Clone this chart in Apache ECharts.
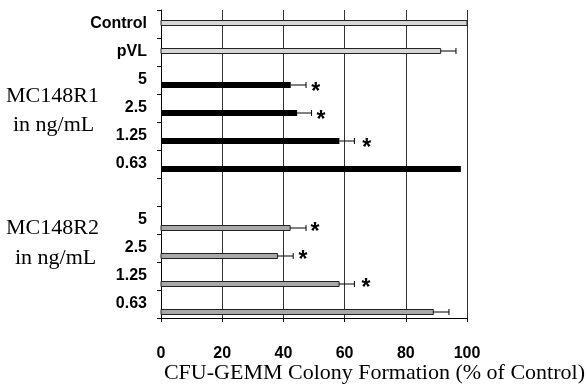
<!DOCTYPE html>
<html>
<head>
<meta charset="utf-8">
<script src="https://cdn.jsdelivr.net/npm/echarts@6/dist/echarts.min.js"></script>
<style>
  html, body { margin: 0; padding: 0; background: #fff; }
  #chart { width: 587px; height: 385px; }
</style>
</head>
<body>
<div id="chart"></div>
<script>
// rows top to bottom (empty row separates the two MC148 groups)
const categories = ['Control', 'pVL', '5', '2.5', '1.25', '0.63', '', '5', '2.5', '1.25', '0.63'];
const xTicks = [0, 20, 40, 60, 80, 100];

// control rows
const ctrlRows = [0, 1];
const ctrlValues = [100, 91.4];
const ctrlErr = [null, 96.4];

// MC148R1
const r1Rows = [2, 3, 4, 5];
const r1Values = [42.4, 44.5, 58.3, 98];
const r1Err = [47.4, 49.2, 63.2, null];
const r1Stars = [50.6, 52.3, 67.2, null];

// MC148R2
const r2Rows = [7, 8, 9, 10];
const r2Values = [42.2, 38.1, 58.2, 89];
const r2Err = [47.4, 43.2, 63.2, 94.1];
const r2Stars = [50.3, 46.4, 67.0, null];

const chart = echarts.init(document.getElementById('chart'));

function rows(idx, vals, errs) {
  return idx.map((r, i) => [vals[i], r, errs[i] == null ? '-' : errs[i]]);
}

function barRender(offset, h, style) {
  return function (params, api) {
    const s = api.coord([0, api.value(1)]);
    const e = api.coord([api.value(0), api.value(1)]);
    return {
      type: 'rect',
      shape: { x: s[0], y: s[1] + offset - h / 2, width: e[0] - s[0], height: h },
      style: style
    };
  };
}

function errRender(offset) {
  return function (params, api) {
    const err = api.value(2);
    if (isNaN(err)) return null;
    const s = api.coord([api.value(0), api.value(1)]);
    const e = api.coord([err, api.value(1)]);
    const y = s[1] + offset;
    return {
      type: 'group',
      children: [
        { type: 'line', shape: { x1: s[0], y1: y, x2: e[0], y2: y }, style: { stroke: '#000', lineWidth: 1 } },
        { type: 'line', shape: { x1: e[0], y1: y - 3, x2: e[0], y2: y + 3 }, style: { stroke: '#000', lineWidth: 1 } }
      ]
    };
  };
}

function starRender(params, api) {
  const p = api.coord([api.value(0), api.value(1)]);
  return {
    type: 'text',
    style: {
      x: p[0], y: p[1] + 13, text: '*',
      font: 'bold 23px "Liberation Sans", Arial, sans-serif',
      fill: '#000', align: 'center', verticalAlign: 'middle'
    }
  };
}

function starData(idx, stars) {
  return idx.map((r, i) => [stars[i], r]).filter(d => d[0] != null);
}

const boldLabel = { fontFamily: '"Liberation Sans", Arial, sans-serif', fontWeight: 'bold', fontSize: 16, color: '#000' };
const serif = '"Liberation Serif", "Times New Roman", serif';

const option = {
  backgroundColor: '#fff',
  animation: false,
  grid: { left: 161, right: 120, top: 10, bottom: 67 },
  xAxis: {
    type: 'value',
    min: xTicks[0],
    max: xTicks[xTicks.length - 1],
    interval: 20,
    axisLine: { show: true, lineStyle: { color: '#000', width: 1 } },
    axisTick: { show: true, length: 4, lineStyle: { color: '#000' } },
    axisLabel: Object.assign({ margin: 28 }, boldLabel),
    splitLine: { show: true, lineStyle: { color: '#333', width: 1 } }
  },
  yAxis: {
    type: 'category',
    inverse: true,
    data: categories,
    boundaryGap: true,
    axisLine: { show: true, lineStyle: { color: '#000', width: 1 } },
    axisTick: { show: true, length: 4, lineStyle: { color: '#000' } },
    axisLabel: Object.assign({ margin: 14 }, boldLabel),
    splitLine: { show: false }
  },
  series: [
    {
      type: 'custom',
      renderItem: barRender(-1, 5, { fill: '#d6d6d6', stroke: '#222', lineWidth: 1 }),
      encode: { x: 0, y: 1 },
      data: rows(ctrlRows, ctrlValues, ctrlErr),
      z: 3
    },
    {
      type: 'custom',
      renderItem: barRender(5, 6, { fill: '#000' }),
      encode: { x: 0, y: 1 },
      data: rows(r1Rows, r1Values, r1Err),
      z: 3
    },
    {
      type: 'custom',
      renderItem: barRender(8, 5, { fill: '#a8a8a8', stroke: '#222', lineWidth: 1 }),
      encode: { x: 0, y: 1 },
      data: rows(r2Rows, r2Values, r2Err),
      z: 3
    },
    { type: 'custom', renderItem: errRender(-1), encode: { x: 0, y: 1 }, data: rows(ctrlRows, ctrlValues, ctrlErr), z: 4 },
    { type: 'custom', renderItem: errRender(5), encode: { x: 0, y: 1 }, data: rows(r1Rows, r1Values, r1Err), z: 4 },
    { type: 'custom', renderItem: errRender(8), encode: { x: 0, y: 1 }, data: rows(r2Rows, r2Values, r2Err), z: 4 },
    {
      type: 'custom',
      renderItem: starRender,
      encode: { x: 0, y: 1 },
      data: starData(r1Rows, r1Stars).concat(starData(r2Rows, r2Stars)),
      z: 5
    }
  ],
  graphic: [
    { type: 'text', left: 6, top: 85, style: { text: 'MC148R1', font: '22px ' + serif, fill: '#000' } },
    { type: 'text', left: 13, top: 114, style: { text: 'in ng/mL', font: '22px ' + serif, fill: '#000' } },
    { type: 'text', left: 6, top: 217, style: { text: 'MC148R2', font: '22px ' + serif, fill: '#000' } },
    { type: 'text', left: 15, top: 247, style: { text: 'in ng/mL', font: '22px ' + serif, fill: '#000' } },
    { type: 'text', right: 2, top: 362, style: { text: 'CFU-GEMM Colony Formation (% of Control)', font: '22px ' + serif, fill: '#000' } }
  ]
};

chart.setOption(option);
</script>
</body>
</html>
